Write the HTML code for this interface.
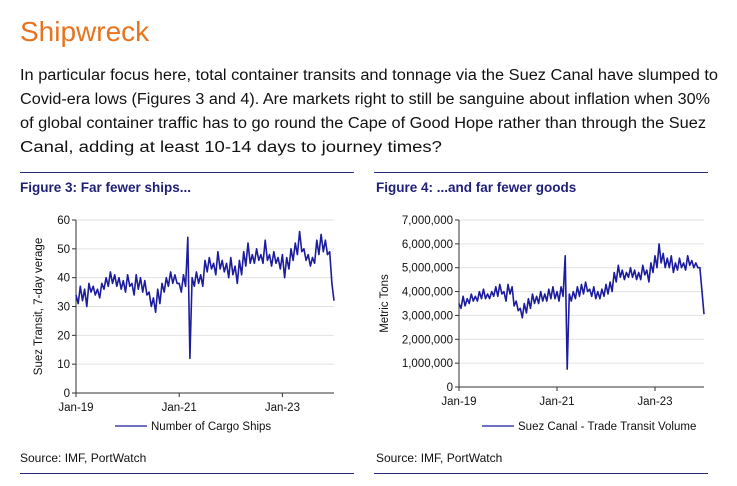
<!DOCTYPE html>
<html><head><meta charset="utf-8"><style>
body{margin:0;background:#fff;}
svg{display:block;font-family:"Liberation Sans",sans-serif;}
</style></head><body>
<svg id="s" width="737" height="486" viewBox="0 0 737 486">
<text x="20" y="41" font-size="28" fill="#e8731e">Shipwreck</text>
<g font-size="15.5" fill="#111">
<text x="20" y="80" textLength="698" lengthAdjust="spacingAndGlyphs">In particular focus here, total container transits and tonnage via the Suez Canal have slumped to</text>
<text x="20" y="104" textLength="690" lengthAdjust="spacingAndGlyphs">Covid-era lows (Figures 3 and 4). Are markets right to still be sanguine about inflation when 30%</text>
<text x="20" y="128" textLength="686" lengthAdjust="spacingAndGlyphs">of global container traffic has to go round the Cape of Good Hope rather than through the Suez</text>
<text x="20" y="152" textLength="422" lengthAdjust="spacingAndGlyphs">Canal, adding at least 10-14 days to journey times?</text>
</g>
<line x1="20" y1="172.5" x2="354" y2="172.5" stroke="#2a2a7a"/>
<line x1="374" y1="172.5" x2="708" y2="172.5" stroke="#2a2a7a"/>
<text x="20" y="192" font-size="13.5" font-weight="bold" fill="#1f1f7a">Figure 3: Far fewer ships...</text>
<text x="376" y="192" font-size="13.5" font-weight="bold" fill="#1f1f7a">Figure 4: ...and far fewer goods</text>
<text x="20" y="462" font-size="12" fill="#111">Source: IMF, PortWatch</text>
<text x="376" y="462" font-size="12" fill="#111">Source: IMF, PortWatch</text>
<line x1="20" y1="473.5" x2="354" y2="473.5" stroke="#2a2a7a"/>
<line x1="374" y1="473.5" x2="708" y2="473.5" stroke="#2a2a7a"/>
<g id="c1"></g><g id="c2"></g>
</svg>
<script>
const xTickLabels = ["Jan-19","Jan-21","Jan-23"];
const xTickMonths = [0,24,48];
const shipTicks = [0,10,20,30,40,50,60];
const tonTicks = [0,1000000,2000000,3000000,4000000,5000000,6000000,7000000];
// half-month samples Jan-2019 .. Jan-2024
const ships = [34,31,37,32,36,30,38,35,37,34,36,33,38,36,40,37,42,38,41,37,40,36,39,35,
41,37,38,34,41,36,40,35,39,34,35,30,33,28,36,31,38,35,40,37,42,38,41,38,
38,35,41,37,54,12,40,37,42,38,41,37,46,42,47,43,45,41,49,43,46,42,45,40,
47,41,44,38,46,41,49,44,52,45,48,45,50,46,48,45,53,46,48,44,49,45,47,43,
48,40,47,43,50,46,52,48,56,49,50,46,48,44,47,45,53,48,55,49,53,48,49,38,32];
const tonsM = [3.5,3.3,3.8,3.4,3.7,3.5,3.9,3.6,3.8,3.6,4.0,3.7,4.1,3.7,3.9,3.7,4.0,3.8,4.2,3.8,4.3,3.9,4.0,3.6,
4.3,3.9,4.2,3.4,3.6,3.2,3.3,2.9,3.5,3.1,3.7,3.3,3.9,3.5,3.8,3.5,4.0,3.6,3.9,3.6,4.1,3.7,4.2,3.7,
4.0,3.6,4.2,3.8,5.5,0.75,3.9,3.6,4.0,3.7,4.2,3.8,4.3,3.9,4.4,4.0,4.1,3.8,4.2,3.7,4.0,3.7,4.1,3.8,
4.3,3.9,4.4,4.0,4.8,4.4,5.1,4.6,4.9,4.5,4.8,4.6,5.0,4.6,4.9,4.5,4.8,4.5,5.1,4.7,4.9,4.4,5.2,4.8,
5.5,5.0,6.0,5.2,5.6,5.0,5.4,5.0,5.5,4.8,5.2,4.9,5.4,5.0,5.2,4.9,5.5,5.1,5.3,5.0,5.2,5.0,5.0,4.0,3.05];
const tons = tonsM.map(v=>v*1000000);

const NS="http://www.w3.org/2000/svg";
function mk(t,a,p){const e=document.createElementNS(NS,t);for(const k in a)e.setAttribute(k,a[k]);p.appendChild(e);return e;}
function chart(g,cfg){
  const {x0,x1,y0,y1,ymax,ticks,fmt,vals,legend,legX,legY,ytitle,ytx}=cfg;
  const xs=m=>x0+m/60*(x1-x0);
  const ys=v=>y0-v/ymax*(y0-y1);
  ticks.forEach(t=>{
    if(t>0){const gl=mk('line',{x1:x0,x2:x1,y1:ys(t),y2:ys(t),stroke:'#e2e2e2'},g);
    
    }
    const tl=mk('text',{x:x0-6,y:ys(t)+4,'font-size':11.5,'text-anchor':'end',fill:'#111'},g);tl.textContent=fmt(t);
    
    
    mk('line',{x1:x0-4,x2:x0,y1:ys(t),y2:ys(t),stroke:'#333'},g);
  });
  const ax=mk('line',{x1:x0,x2:x0,y1:y1,y2:y0,stroke:'#333'},g);
  
  
  const bx=mk('line',{x1:x0,x2:x1,y1:y0,y2:y0,stroke:'#333'},g);
  
  
  xTickMonths.forEach((m,i)=>{
    mk('line',{x1:xs(m),x2:xs(m),y1:y0,y2:y0+4,stroke:'#333'},g);
    const t=mk('text',{x:xs(m),y:y0+18,'font-size':11.5,'text-anchor':'middle',fill:'#111'},g);t.textContent=xTickLabels[i];
    
    
  });
  const pts=vals.map((v,i)=>xs(i/2).toFixed(1)+','+ys(v).toFixed(1)).join(' ');
  const pl=mk('polyline',{points:pts,fill:'none',stroke:'#1c1c9e','stroke-width':1.6,'stroke-linejoin':'round'},g);
  
  
  mk('line',{x1:legX,x2:legX+32,y1:legY,y2:legY,stroke:'#1c1c9e','stroke-width':1.3},g);
  const lt=mk('text',{x:legX+36,y:legY+4,'font-size':11.5,fill:'#111'},g);lt.textContent=legend;
  
  
  const yt=mk('text',{x:ytx,y:(y0+y1)/2,'font-size':11.5,'text-anchor':'middle',fill:'#111',transform:`rotate(-90 ${ytx} ${(y0+y1)/2})`},g);yt.textContent=ytitle;
  
  
}
chart(document.getElementById('c1'),{x0:76,x1:334,y0:393,y1:220,ymax:60,ticks:shipTicks,fmt:t=>String(t),vals:ships,legend:'Number of Cargo Ships',legX:115,legY:426,ytitle:'Suez Transit, 7-day verage',ytx:42});
chart(document.getElementById('c2'),{x0:459,x1:704,y0:387,y1:220,ymax:7000000,ticks:tonTicks,fmt:t=>t.toLocaleString('en-US'),vals:tons,legend:'Suez Canal - Trade Transit Volume',legX:482,legY:426,ytitle:'Metric Tons',ytx:388});
</script>
</body></html>
